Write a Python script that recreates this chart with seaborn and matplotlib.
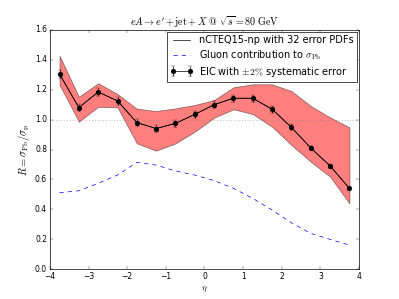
import matplotlib
matplotlib.use("Agg")
import matplotlib.pyplot as plt
import seaborn as sns
import numpy as np
import pandas as pd

eta = [-3.75, -3.25, -2.75, -2.25, -1.75, -1.25, -0.75, -0.25,
       0.25, 0.75, 1.25, 1.75, 2.25, 2.75, 3.25, 3.75]
ratio = [1.305, 1.08, 1.185, 1.125, 0.98, 0.94, 0.975, 1.035,
         1.10, 1.143, 1.143, 1.069, 0.948, 0.81, 0.69, 0.54]
ratio_err = [0.03, 0.025, 0.025, 0.024, 0.022, 0.022, 0.022, 0.022,
             0.023, 0.023, 0.023, 0.022, 0.02, 0.016, 0.014, 0.011]
band_hi = [1.428, 1.153, 1.243, 1.171, 1.073, 1.057, 1.075, 1.098,
           1.131, 1.216, 1.236, 1.236, 1.191, 1.091, 1.015, 0.948]
band_lo = [1.232, 0.986, 1.086, 1.082, 0.841, 0.792, 0.841, 0.919,
           1.013, 1.069, 1.037, 0.952, 0.83, 0.718, 0.618, 0.44]
gluon = [0.511, 0.524, 0.574, 0.629, 0.714, 0.696, 0.656, 0.629,
         0.592, 0.54, 0.473, 0.395, 0.31, 0.239, 0.199, 0.161]

df = pd.DataFrame({"eta": eta, "ratio": ratio, "gluon": gluon,
                   "hi": band_hi, "lo": band_lo, "err": ratio_err})

plt.style.use("classic")
plt.rcParams["mathtext.fontset"] = "cm"
plt.rcParams["savefig.facecolor"] = "white"
plt.rcParams["figure.facecolor"] = "white"

fig, ax = plt.subplots(figsize=(7.98, 5.98), dpi=50)

ax.fill_between(df["eta"], df["lo"], df["hi"], facecolor="red", alpha=0.5,
                edgecolor="k", linewidth=1)
sns.lineplot(data=df, x="eta", y="ratio", ax=ax, color="k", linewidth=1,
             label="nCTEQ15-np with 32 error PDFs")
sns.lineplot(data=df, x="eta", y="gluon", ax=ax, color="b", linewidth=1,
             linestyle="--", label=r"Gluon contribution to $\sigma_{\rm Pb}$")
ax.errorbar(df["eta"], df["ratio"], yerr=df["err"], fmt="ko-", markersize=7,
            capsize=3, linewidth=1, label=r"EIC with $\pm 2\%$ systematic error")
ax.axhline(1.0, color="gray", linestyle=":", linewidth=1)

ax.set_xlim(-4, 4)
ax.set_ylim(0, 1.6)
ax.tick_params(labelsize=11)
ax.set_xlabel(r"$\eta$", fontsize=13)
ax.set_ylabel(r"$R=\sigma_{\rm Pb}/\sigma_{\rm p}$", fontsize=15)
ax.set_title(r"$eA \rightarrow e^{\prime} + {\rm jet} + X\ @\ \sqrt{s}=80\ {\rm GeV}$",
             fontsize=14.4)
ax.legend(loc="upper right", numpoints=2, fontsize=14, handlelength=2.4,
          borderaxespad=0.2, handletextpad=0.6, borderpad=0.35,
          labelspacing=0.3)

fig.savefig("out.png", dpi=50)
